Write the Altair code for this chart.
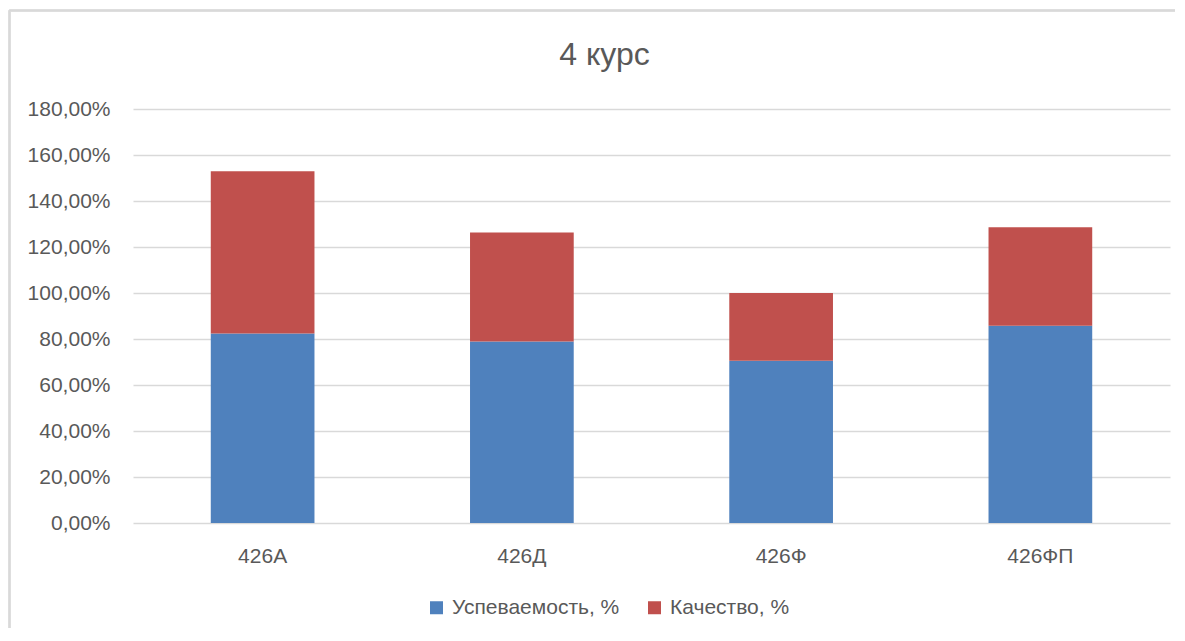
import altair as alt
import pandas as pd

groups = ["426А", "426Д", "426Ф", "426ФП"]
uspev = [82.35, 78.95, 70.59, 85.71]
kach = [70.59, 47.37, 29.41, 42.86]
series = ["Успеваемость, %", "Качество, %"]
colors = ["#4F81BD", "#C0504D"]
y_ticks = [0, 20, 40, 60, 80, 100, 120, 140, 160, 180]

rows = []
for g, u, k in zip(groups, uspev, kach):
    rows.append({"group": g, "series": series[0], "value": u, "ord": 0})
    rows.append({"group": g, "series": series[1], "value": k, "ord": 1})
df = pd.DataFrame(rows)

FONT = "Liberation Sans"
GREY = "#595959"
W, H = 1037, 414

bars = alt.Chart(df).mark_bar().encode(
    x=alt.X("group:N", sort=groups,
            scale=alt.Scale(paddingInner=0.6, paddingOuter=0.3),
            axis=alt.Axis(title=None, labelAngle=0, ticks=False, domain=False,
                          labelFontSize=21, labelColor=GREY, labelFont=FONT,
                          labelPadding=22, grid=False)),
    y=alt.Y("value:Q", stack="zero",
            scale=alt.Scale(domain=[0, 180], nice=False),
            axis=alt.Axis(title=None, values=y_ticks, ticks=False, domain=False,
                          labelFontSize=21, labelColor=GREY, labelFont=FONT,
                          labelPadding=23, gridColor="#D9D9D9", gridWidth=1.3,
                          labelExpr="replace(format(datum.value, '.2f'), '.', ',') + '%'")),
    color=alt.Color("series:N",
                    scale=alt.Scale(domain=series, range=colors),
                    legend=alt.Legend(title=None, orient="none", direction="horizontal",
                                      legendX=293, legendY=488, padding=0,
                                      symbolType="square", symbolSize=169,
                                      symbolStrokeWidth=0, labelFontSize=21,
                                      labelColor=GREY, labelFont=FONT, labelLimit=0,
                                      labelOffset=5, columnPadding=24)),
    order=alt.Order("ord:Q"),
)

border_top = alt.Chart(df).mark_rule(color="#D9D9D9", strokeWidth=1.5).encode(
    x=alt.value(-123.5), x2=alt.value(1045), y=alt.value(-98.5))
border_left = alt.Chart(df).mark_rule(color="#D9D9D9", strokeWidth=1.5).encode(
    x=alt.value(-123.5), y=alt.value(-98.5), y2=alt.value(519))

chart = alt.layer(bars, border_top, border_left).properties(
    width=W, height=H,
    title=alt.TitleParams("4 курс", fontSize=32, color=GREY, font=FONT,
                          fontWeight="normal", anchor="middle", offset=-62, dx=-47),
    autosize=alt.AutoSizeParams(type="none"),
    padding={"left": 125, "top": 101, "right": 5, "bottom": 105},
).configure_view(stroke=None)

chart.save("out.html", embed_options={"renderer": "svg", "actions": False})
